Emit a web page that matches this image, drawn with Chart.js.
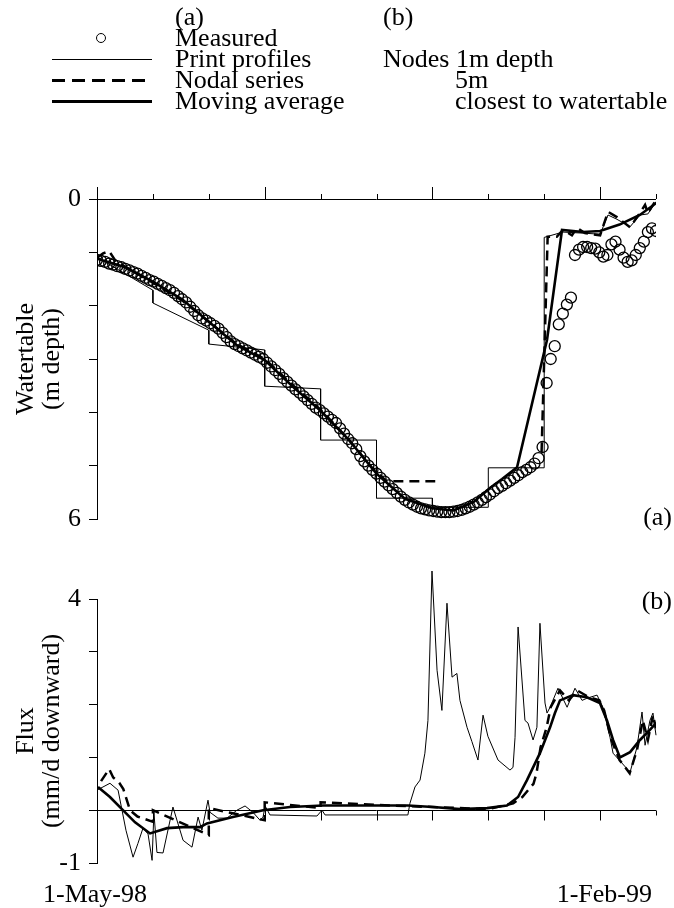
<!DOCTYPE html>
<html>
<head>
<meta charset="utf-8">
<script src="https://cdn.jsdelivr.net/npm/chart.js@4.4.1/dist/chart.umd.min.js"></script>
<style>
  html, body { margin: 0; padding: 0; background: #fff; }
  #page { position: relative; width: 674px; height: 908px; font-family: "Liberation Serif", "Times New Roman", serif; color: #000; }
  #wtBox { position: absolute; left: 0; top: 0; width: 674px; height: 560px; }
  #fluxBox { position: absolute; left: 0; top: 560px; width: 674px; height: 348px; }
  .key { position: absolute; font-size: 26px; line-height: 26px; height: 26px; white-space: nowrap; }
  .swatch { position: absolute; left: 52px; width: 100px; }
  .thin { border-top: 1px solid #000; height: 0; }
  .dash { height: 3px; background: repeating-linear-gradient(90deg, #000 0 13px, transparent 13px 20px); }
  .thick { height: 3px; background: #000; }
  .ring { position: absolute; left: 96px; width: 8px; height: 8px; border: 1px solid #000; border-radius: 50%; }
</style>
</head>
<body>
<div id="page">
  <div id="wtBox"><canvas id="wtChart"></canvas></div>
  <div id="fluxBox"><canvas id="fluxChart"></canvas></div>

  <div class="key" style="left:175px; top:4px">(a)</div>
  <div class="key" style="left:383px; top:4px">(b)</div>
  <div class="ring" style="top:33px"></div>
  <div class="key" style="left:175px; top:25px">Measured</div>
  <div class="swatch thin" style="top:59px"></div>
  <div class="key" style="left:175px; top:46px">Print profiles</div>
  <div class="key" style="left:383px; top:46px">Nodes 1m depth</div>
  <div class="swatch dash" style="top:79px"></div>
  <div class="key" style="left:175px; top:67px">Nodal series</div>
  <div class="key" style="left:455px; top:67px">5m</div>
  <div class="swatch thick" style="top:100px"></div>
  <div class="key" style="left:175px; top:88px">Moving average</div>
  <div class="key" style="left:455px; top:88px">closest to watertable</div>
</div>

<script>
// days since 1-May-98; print times every 27.6 days up to 1-Feb-99
const printTimes = [0, 27.6, 55.2, 82.8, 110.4, 138, 165.6, 193.2, 220.8, 248.4, 276];
const dateLabels = ['1-May-98', '1-Feb-99'];

// measured watertable (m depth), one reading every 2 days from day 0
const measuredStep = 2;
const measuredDepth = [
  1.14, 1.16, 1.18, 1.21, 1.23, 1.26, 1.28, 1.31, 1.34, 1.37,
  1.40, 1.44, 1.48, 1.52, 1.55, 1.59, 1.63, 1.67, 1.71, 1.76,
  1.82, 1.88, 1.94, 2.02, 2.10, 2.18, 2.24, 2.28, 2.33, 2.38,
  2.43, 2.51, 2.59, 2.67, 2.72, 2.76, 2.80, 2.84, 2.88, 2.92,
  2.96, 3.00, 3.07, 3.14, 3.21, 3.28, 3.36, 3.43, 3.50, 3.57,
  3.63, 3.70, 3.77, 3.84, 3.91, 3.96, 4.02, 4.08, 4.14, 4.20,
  4.30, 4.40, 4.50, 4.58, 4.69, 4.82, 4.92, 5.00, 5.08, 5.15,
  5.23, 5.30, 5.37, 5.44, 5.51, 5.58, 5.64, 5.69, 5.73, 5.77,
  5.80, 5.82, 5.84, 5.85, 5.86, 5.87, 5.87, 5.87, 5.86, 5.85,
  5.83, 5.80, 5.77, 5.73, 5.69, 5.64, 5.59, 5.54, 5.48, 5.42,
  5.38, 5.33, 5.28, 5.23, 5.18, 5.12, 5.08, 5.03, 4.96, 4.86,
  4.65, 3.45, 3.00, 2.76, 2.35, 2.15, 1.98, 1.85, 1.05, 0.95,
  0.90, 0.90, 0.92, 0.93, 1.00, 1.08, 1.05, 0.85, 0.80, 0.95,
  1.10, 1.18, 1.15, 1.05, 0.92, 0.80, 0.62, 0.55, 0.60
];

// simulated watertable from print profiles (steps at each print)
const profileDay   = [0, 27.6, 27.6, 55.2, 55.2, 82.8, 82.8, 110.4, 110.4, 138, 138, 165.6, 165.6, 193.2, 193.2, 220.8, 220.8, 230, 240, 248.4, 252.3, 256.7, 263.2, 268.1, 272, 276];
const profileDepth = [1.09, 1.71, 1.95, 2.46, 2.72, 2.83, 3.51, 3.56, 4.52, 4.52, 5.61, 5.61, 5.78, 5.78, 5.04, 5.04, 0.72, 0.62, 0.64, 0.66, 0.30, 0.38, 0.52, 0.30, 0.28, 0.05];

// simulated watertable from the nodal series (no value below the 5.3 m node)
const nodalDay   = [0, 3, 6, 9, 14, 28, 42, 55.2, 69, 82.8, 97, 110.4, 124, 136, 143, 167, 190, 219.5, 222.5, 227, 230.1, 234.5, 237, 240.9, 248.4, 252.3, 256.7, 263.2, 268.1, 270.6, 272, 274.5, 276];
const nodalDepth = [1.10, 1.02, 0.98, 1.15, 1.27, 1.58, 1.90, 2.30, 2.72, 3.00, 3.50, 3.95, 4.50, 5.05, 5.29, 5.29, null, 4.75, 0.71, 0.71, 0.58, 0.68, 0.54, 0.64, 0.68, 0.24, 0.34, 0.53, 0.26, 0.11, 0.26, 0.11, 0.02];

// moving average of the simulated watertable
const avgDay   = [0, 14, 28, 42, 55.2, 69, 82.8, 97, 110.4, 124, 138, 152, 165.6, 176, 186, 194, 200, 207.4, 222.2, 229.6, 240, 248.4, 258, 268, 276];
const avgDepth = [1.12, 1.28, 1.56, 1.88, 2.30, 2.74, 3.02, 3.53, 3.97, 4.50, 5.15, 5.62, 5.80, 5.84, 5.68, 5.42, 5.25, 5.03, 2.64, 0.58, 0.62, 0.60, 0.48, 0.30, 0.08];

// flux (mm/d downward) at the 1 m nodes
const flux1mDay = [0, 6.4, 10.4, 14.3, 17.8, 20.2, 22.7, 25.2, 27.2, 28.1, 29.6, 32.6, 37.5, 42.5, 46.9, 49.9, 51.8, 54.8, 55.8, 59.7, 64.2, 69.1, 73.1, 77.0, 80.5, 82.0, 83.0, 85.4, 108.6, 111.1, 112.6, 153.5, 154.5, 157.0, 159.5, 161.9, 163.4, 165.4, 167.9, 170.3, 172.8, 175.3, 177.7, 179.2, 182.7, 185.1, 188.1, 190.6, 193.0, 198.0, 203.9, 205.4, 206.4, 207.9, 211.3, 212.8, 215.3, 217.2, 218.7, 221.2, 222.2, 223.7, 227.6, 232.1, 236.0, 239.5, 241.9, 246.9, 249.8, 253.3, 254.8, 263.2, 266.6, 269.1, 270.6, 273.0, 274.5, 276];
const flux1m    = [0.38, 0.51, 0.38, -0.38, -0.89, -0.63, -0.34, -0.45, -0.95, -0.04, -0.80, -0.81, 0.06, -0.57, -0.70, -0.13, -0.38, 0.19, -0.04, -0.15, -0.15, 0.00, 0.08, -0.04, -0.19, -0.13, 0.08, -0.09, -0.11, 0.00, -0.09, -0.09, 0.13, 0.44, 0.57, 1.08, 1.70, 4.53, 2.65, 1.89, 3.92, 2.52, 2.59, 2.08, 1.57, 1.30, 0.95, 1.80, 1.40, 0.95, 0.76, 0.81, 1.38, 3.47, 1.70, 1.65, 1.33, 1.57, 3.54, 2.03, 1.84, 1.95, 2.31, 1.95, 2.31, 2.08, 2.12, 2.18, 1.95, 1.38, 1.08, 0.72, 1.19, 1.86, 1.23, 1.70, 1.84, 1.42];

// flux at the 5 m nodes
const flux5mDay = [2, 6, 8, 11, 13, 16.3, 20, 27.6, 27.6, 55.2, 55.2, 82.8, 82.8, 110.4, 110.4, 138, 165.6, 193.2, 205.5, 210, 215.5, 217, 219, 222, 224, 228.6, 233, 237, 242.9, 248, 250.4, 254, 258, 263, 266.6, 269.5, 272, 274.5, 276];
const flux5m    = [0.55, 0.78, 0.62, 0.52, 0.40, 0.00, -0.12, -0.22, 0.00, -0.47, 0.04, -0.19, 0.15, 0.04, 0.15, 0.10, 0.06, 0.02, 0.13, 0.25, 0.50, 0.70, 1.19, 1.57, 1.95, 2.27, 2.08, 2.27, 2.14, 2.08, 1.89, 1.33, 0.95, 0.70, 1.14, 1.70, 1.33, 1.80, 1.55];

// flux at the node closest to the watertable
const fluxWtDay = [0.5, 6.4, 12.8, 18.8, 26.2, 34.6, 42.5, 50.9, 54.3, 67.1, 82, 95.3, 111.6, 124.9, 153.5, 165.9, 179.2, 192.6, 202.4, 207.9, 212.3, 218.7, 223.7, 226.1, 228.6, 235, 241.9, 248.3, 251.8, 254.8, 258.2, 263.2, 268.1, 273, 276];
const fluxWt    = [0.44, 0.25, 0.00, -0.23, -0.44, -0.34, -0.32, -0.32, -0.25, -0.13, 0.00, 0.06, 0.09, 0.09, 0.09, 0.06, 0.02, 0.04, 0.09, 0.25, 0.57, 1.08, 1.57, 1.84, 2.08, 2.18, 2.14, 2.03, 1.70, 1.33, 1.00, 1.10, 1.33, 1.52, 1.65];

const SERIF = '"Liberation Serif", "Times New Roman", serif';
const pts = (xs, ys) => xs.map((x, i) => ({ x, y: ys[i] }));

const thinLine  = { borderColor: '#000', borderWidth: 1, pointRadius: 0, tension: 0, fill: false };
const dashLine  = { borderColor: '#000', borderWidth: 2.5, borderDash: [10, 6], pointRadius: 0, tension: 0, fill: false };
const thickLine = { borderColor: '#000', borderWidth: 2.6, pointRadius: 0, tension: 0, fill: false };

function yAxis(min, max, shown, title) {
  return {
    type: 'linear', min, max,
    afterFit: s => { s.width = 97; },
    ticks: {
      stepSize: 1, autoSkip: false, padding: 8, color: '#000',
      font: { family: SERIF, size: 26 },
      callback: v => shown.includes(v) ? String(v) : ''
    },
    grid: { drawOnChartArea: false, drawTicks: true, tickLength: 8, tickColor: '#000', tickWidth: 1 },
    border: { display: true, color: '#000', width: 1 },
    title: {
      display: true, text: title, color: '#000',
      font: { family: SERIF, size: 26, lineHeight: 1 },
      padding: { top: 13, bottom: 0 }
    }
  };
}

const xAxis = { type: 'linear', min: 0, max: 276, display: false };

/* top frame: axis along depth 0 with ticks pointing up, every third one long */
const wtFrame = {
  id: 'wtFrame',
  afterDraw(chart) {
    const { ctx, chartArea: a, scales: { x } } = chart;
    ctx.save();
    ctx.strokeStyle = '#000';
    ctx.lineWidth = 1;
    ctx.beginPath();
    ctx.moveTo(a.left, a.top + 0.5);
    ctx.lineTo(a.right, a.top + 0.5);
    printTimes.forEach((d, i) => {
      const px = Math.round(x.getPixelForValue(d)) + 0.5;
      const len = (i % 3 === 0) ? 12 : 5;
      ctx.moveTo(px, a.top);
      ctx.lineTo(px, a.top - len);
    });
    ctx.stroke();
    ctx.fillStyle = '#000';
    ctx.font = '26px ' + SERIF;
    ctx.textAlign = 'right';
    ctx.textBaseline = 'middle';
    ctx.fillText('(a)', 672, 518);
    ctx.restore();
  }
};

/* bottom frame: axis along zero flux with ticks pointing down, date labels */
const fluxFrame = {
  id: 'fluxFrame',
  afterDraw(chart) {
    const { ctx, chartArea: a, scales: { x, y } } = chart;
    const y0 = Math.round(y.getPixelForValue(0)) + 0.5;
    ctx.save();
    ctx.strokeStyle = '#000';
    ctx.lineWidth = 1;
    ctx.beginPath();
    ctx.moveTo(a.left, y0);
    ctx.lineTo(a.right, y0);
    printTimes.forEach((d, i) => {
      if (i === 0) return;
      const px = Math.round(x.getPixelForValue(d)) + 0.5;
      const len = (i === printTimes.length - 1) ? 5 : 10;
      ctx.moveTo(px, y0);
      ctx.lineTo(px, y0 + len);
    });
    ctx.stroke();
    ctx.fillStyle = '#000';
    ctx.font = '26px ' + SERIF;
    ctx.textBaseline = 'middle';
    ctx.textAlign = 'center';
    ctx.fillText(dateLabels[0], x.getPixelForValue(0) - 2, a.bottom + 32);
    ctx.textAlign = 'right';
    ctx.fillText(dateLabels[1], a.right - 4, a.bottom + 32);
    ctx.fillText('(b)', 672, 42);
    ctx.restore();
  }
};

const common = {
  responsive: true, maintainAspectRatio: false, animation: false, devicePixelRatio: 1,
  events: [],
  plugins: { legend: { display: false }, tooltip: { enabled: false } }
};

new Chart(document.getElementById('wtChart'), {
  type: 'line',
  data: {
    datasets: [
      Object.assign({ data: pts(profileDay, profileDepth) }, thinLine),
      Object.assign({ data: pts(nodalDay, nodalDepth), spanGaps: false }, dashLine),
      Object.assign({ data: pts(avgDay, avgDepth) }, thickLine),
      {
        data: measuredDepth.map((v, i) => ({ x: i * measuredStep, y: v })),
        showLine: false, pointStyle: 'circle', pointRadius: 5.5,
        pointBorderWidth: 1.3, pointBorderColor: '#000', pointBackgroundColor: 'rgba(0,0,0,0)'
      }
    ]
  },
  options: Object.assign({}, common, {
    layout: { padding: { left: 0, top: 199, right: 18, bottom: 41 } },
    scales: {
      x: xAxis,
      y: Object.assign(yAxis(0, 6, [0, 6], ['Watertable', '(m depth)']), { reverse: true })
    }
  }),
  plugins: [wtFrame]
});

new Chart(document.getElementById('fluxChart'), {
  type: 'line',
  data: {
    datasets: [
      Object.assign({ data: pts(flux1mDay, flux1m), clip: false }, thinLine),
      Object.assign({ data: pts(flux5mDay, flux5m) }, dashLine),
      Object.assign({ data: pts(fluxWtDay, fluxWt) }, thickLine)
    ]
  },
  options: Object.assign({}, common, {
    layout: { padding: { left: 0, top: 39, right: 18, bottom: 45 } },
    scales: {
      x: xAxis,
      y: yAxis(-1, 4, [4, -1], ['Flux', '(mm/d downward)'])
    }
  }),
  plugins: [fluxFrame]
});
</script>
</body>
</html>
